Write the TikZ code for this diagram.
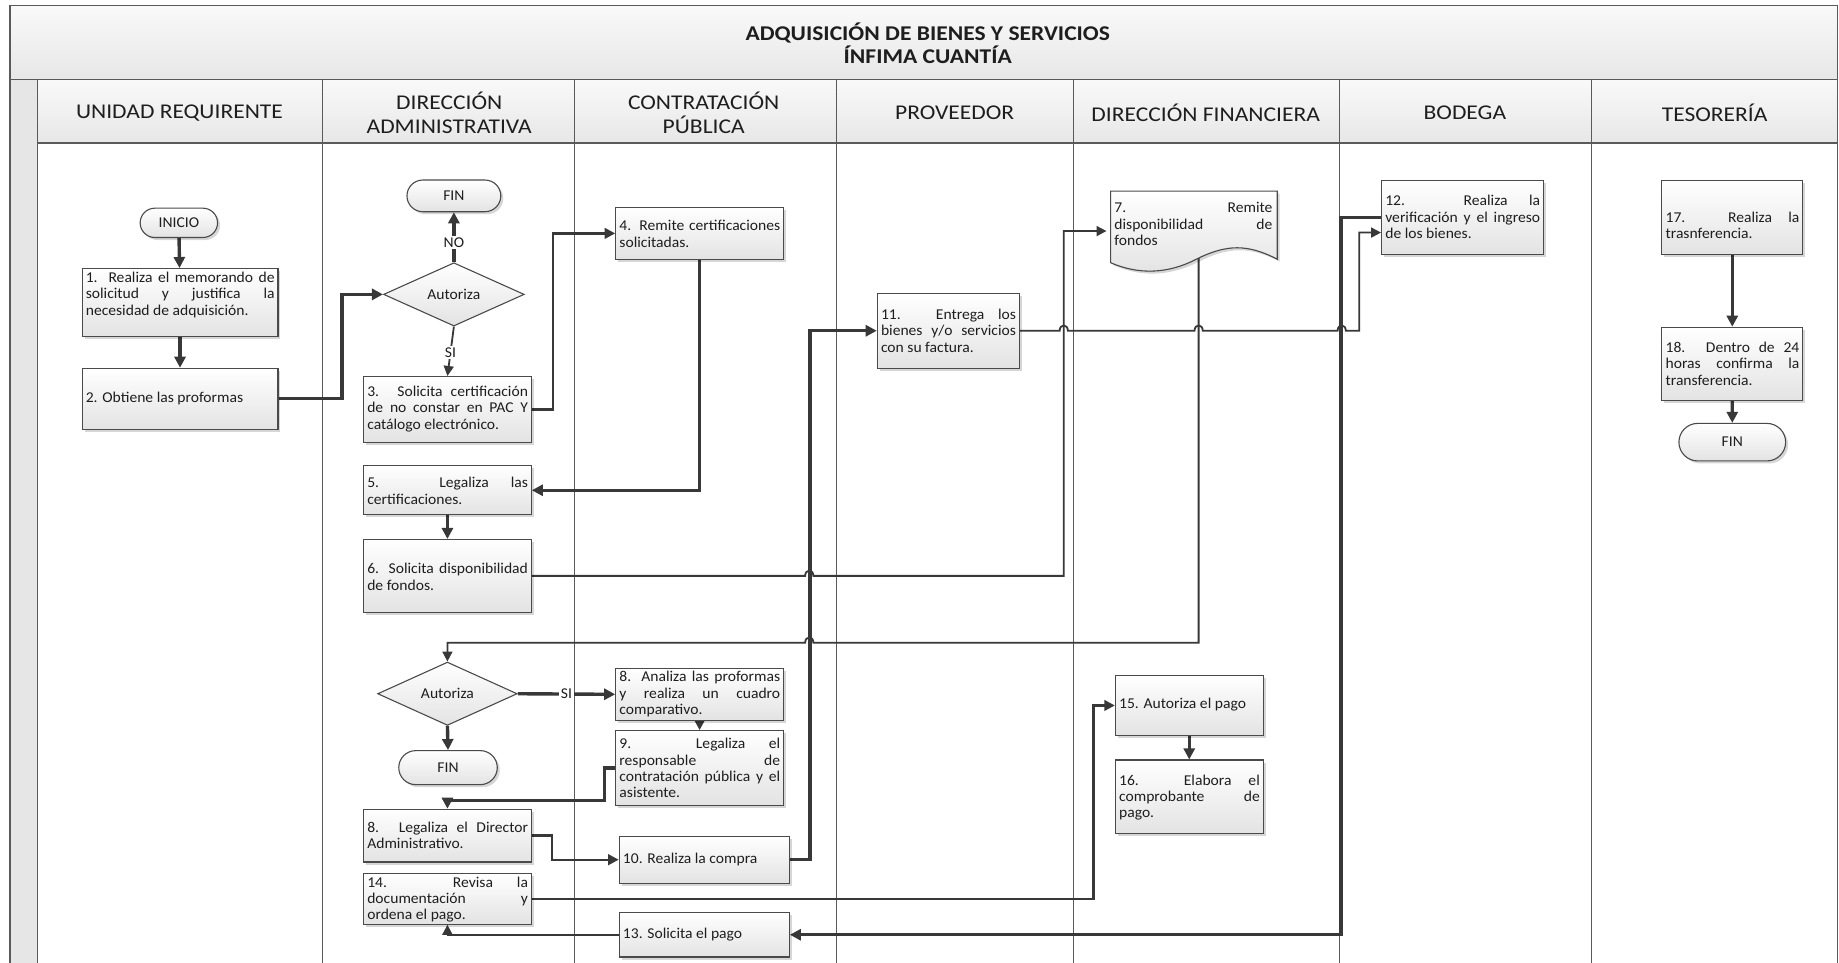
\documentclass[tikz,border=0pt]{standalone}
\usepackage{fontspec}
\setmainfont[FakeStretch=1.04]{Carlito}
\newfontfamily\headfam[FakeStretch=1.12]{Carlito}
\usetikzlibrary{arrows.meta,shapes.geometric,shapes.misc,shadows}

\definecolor{ink}{HTML}{1E1E1E}
\definecolor{wire}{HTML}{383838}
\definecolor{rule}{HTML}{5A5A5A}
\definecolor{edge}{HTML}{4A4A4A}
\definecolor{boxlow}{HTML}{E3E3E3}
\definecolor{bandhigh}{HTML}{F9F9F9}
\definecolor{bandlow}{HTML}{E7E7E7}
\definecolor{strip}{HTML}{E6E6E6}

\pgfdeclarelayer{lanes}
\pgfdeclarelayer{wires}
\pgfsetlayers{lanes,wires,main}

\newcommand\boxfont{\fontsize{15}{16.4}\selectfont}
\newcommand\headfont{\headfam\fontsize{21}{23.5}\selectfont}

% process box: name, x1, y1, x2, y2, text centre y, text
\newcommand\stepnode[7]{%
  \pgfmathsetmacro\pdW{(#4-#2)*1.1728}%
  \pgfmathsetmacro\pdH{(#5-#3)*1.1728}%
  \pgfmathsetmacro\pdT{\pdW-7}%
  \node[procbox, minimum width=\pdW pt, minimum height=\pdH pt] (#1) at ({(#2+#4)/2},{(#3+#5)/2}) {};
  \node[boxtext, text width=\pdT pt, anchor=west] (#1-t) at ({#2+3},#6) {#7};
}
% start/end pill: name, cx, cy, w, h, text
\newcommand\pillnode[6]{%
  \pgfmathsetmacro\pdW{#4*1.1728}\pgfmathsetmacro\pdH{#5*1.1728}%
  \node[terminal, minimum width=\pdW pt, minimum height=\pdH pt] (#1) at (#2,#3) {#6};}
% decision diamond: name, cx, cy, w, h, text
\newcommand\choicenode[6]{%
  \pgfmathsetmacro\pdW{#4*1.1728}\pgfmathsetmacro\pdH{#5*1.1728}%
  \node[decision, minimum width=\pdW pt, minimum height=\pdH pt] (#1) at (#2,#3) {#6};}

\tikzset{
  shadowed/.style={drop shadow={shadow xshift=2.5pt, shadow yshift=-2.5pt, fill=black, opacity=0.16}},
  procbox/.style={rectangle, draw=edge, line width=1.1pt, top color=white, bottom color=boxlow, shadowed, inner sep=0pt},
  boxtext/.style={inner sep=0pt, align=justify, text=ink, font=\boxfont,
    execute at begin node={\parindent=0pt\hyphenpenalty=10000\exhyphenpenalty=10000\tolerance=10000\hbadness=10000}},
  terminal/.style={rounded rectangle, draw=edge, line width=1.1pt, top color=white, bottom color=boxlow, shadowed, inner sep=0pt, text=ink, font=\boxfont},
  decision/.style={diamond, draw=edge, line width=1.1pt, top color=white, bottom color=boxlow, inner sep=0pt, text=ink, font=\boxfont},
  docshape/.style={draw=edge, line width=1.1pt, top color=white, bottom color=boxlow, shadowed},
  wirethick/.style={draw=wire, line width=3.4pt, -{Triangle[length=11pt,width=11pt]}},
  wiremid/.style={draw=wire, line width=2.4pt, -{Triangle[length=10.5pt,width=10.5pt]}},
  wirethin/.style={draw=wire, line width=1.8pt, -{Triangle[length=10pt,width=10pt]}},
  tag/.style={fill=white, inner sep=1.5pt, text=ink, font=\boxfont},
  laneline/.style={draw=rule, line width=1.2pt},
  lanehead/.style={font=\headfont, align=center, text=ink, inner sep=0pt},
}

\begin{document}
\begin{tikzpicture}[x=1.1728pt, y=-1.1728pt]
\useasboundingbox (0,0) rectangle (1568,821);

% ---------- swimlane frame ----------
\begin{pgfonlayer}{lanes}
  \fill[white] (0,0) rectangle (1568,821);
  \fill[top color=bandhigh, bottom color=bandlow] (8.5,5) rectangle (1567,68);
  \fill[top color=bandhigh, bottom color=bandlow] (32,68) rectangle (1567,122);
  \fill[strip] (8.5,68) rectangle (32,830);
  \draw[laneline] (8.5,830) -- (8.5,5) -- (1567,5) -- (1567,830);
  \draw[laneline] (8.5,68) -- (1567,68);
  \draw[laneline] (32,122) -- (1567,122);
  \foreach \lx in {32,275,490,713,915,1142,1357}
    \draw[laneline] (\lx,68) -- (\lx,830);
\end{pgfonlayer}

\node[font=\headfont\bfseries, align=center, text=ink, inner sep=0pt] (title) at (791,37)
  {ADQUISICIÓN DE BIENES Y SERVICIOS\\ÍNFIMA CUANTÍA};
\node[lanehead] (h1) at (153,96) {UNIDAD REQUIRENTE};
\node[lanehead] (h2) at (383,96) {DIRECCIÓN\\ADMINISTRATIVA};
\node[lanehead] (h3) at (600,96) {CONTRATACIÓN\\PÚBLICA};
\node[lanehead] (h4) at (814,96) {PROVEEDOR};
\node[lanehead] (h5) at (1028,96) {DIRECCIÓN FINANCIERA};
\node[lanehead] (h6) at (1249,96) {BODEGA};
\node[lanehead] (h7) at (1462,96) {TESORERÍA};

% ---------- unidad requirente ----------
\pillnode{inicio}{152.5}{190}{66}{25}{INICIO}
\stepnode{b1}{70}{229}{237}{287}{251.5}{1. Realiza el memorando de\linebreak solicitud y justifica la\linebreak necesidad de adquisición.}
\stepnode{b2}{70}{314}{237}{366}{340}{2. Obtiene las proformas}

% ---------- direccion administrativa ----------
\pillnode{fin1}{387}{167}{80}{27}{FIN}
\choicenode{d1}{387}{251}{120}{44}{Autoriza}
\stepnode{b3}{310}{321}{453}{377}{348.5}{3. Solicita certificación\linebreak de no constar en PAC Y\linebreak catálogo electrónico.}
\stepnode{b5}{310}{397}{453}{439}{418.5}{5. Legaliza las\linebreak certificaciones.}
\stepnode{b6}{310}{460}{453}{522}{492}{6. Solicita disponibilidad\linebreak de fondos.}
\choicenode{d2}{381.5}{591.5}{119}{50}{Autoriza}
\pillnode{fin2}{382}{654.5}{84}{29}{FIN}
\stepnode{b8b}{310}{690}{453}{735}{712}{8. Legaliza el Director\linebreak Administrativo.}
\stepnode{b14}{310}{745}{453}{788}{767}{14. Revisa la\linebreak documentación y\linebreak ordena el pago.}

% ---------- contratacion publica ----------
\stepnode{b4}{525}{177}{668}{221}{199.5}{4. Remite certificaciones\linebreak solicitadas.}
\stepnode{b8a}{525}{570}{668}{614}{592}{8. Analiza las proformas\linebreak y realiza un cuadro\linebreak comparativo.}
\stepnode{b9}{525}{623}{668}{686.5}{655}{9. Legaliza el\linebreak responsable de\linebreak contratación pública y el\linebreak asistente.}
\stepnode{b10}{528}{713}{673}{753}{733}{10. Realiza la compra}
\stepnode{b13}{528}{778}{673}{816}{797}{13. Solicita el pago}

% ---------- proveedor ----------
\stepnode{b11}{748}{250}{869}{314}{282}{11. Entrega los\linebreak bienes y/o servicios\linebreak con su factura.}

% ---------- direccion financiera ----------
\node[inner sep=0pt, minimum width=166.5pt, minimum height=79.7pt] (doc7) at (1018,197) {};
\filldraw[docshape] (947,163) -- (1089,163) -- (1089,221)
  .. controls (1064,208) and (1046,208) .. (1020,221)
  .. controls (995,234) and (970,234) .. (947,224) -- cycle;
\node[boxtext, text width=158pt, anchor=west] (doc7-t) at (950,191)
  {7. Remite\linebreak disponibilidad de\linebreak fondos};
\coordinate (w7) at (1022,215);
\stepnode{b15}{951}{576}{1077}{627}{601}{15. Autoriza el pago}
\stepnode{b16}{951}{648}{1077}{711}{680}{16. Elabora el\linebreak comprobante de\linebreak pago.}

% ---------- bodega ----------
\stepnode{b12}{1178}{154}{1316}{217}{185}{12. Realiza la\linebreak verificación y el ingreso\linebreak de los bienes.}

% ---------- tesoreria ----------
\stepnode{b17}{1417}{154}{1537}{217}{192}{17. Realiza la\linebreak trasnferencia.}
\stepnode{b18}{1417}{279}{1537}{341.5}{310}{18. Dentro de 24\linebreak horas confirma la\linebreak transferencia.}
\pillnode{fin3}{1477}{377}{91}{32}{FIN}

% ---------- connectors ----------
\begin{pgfonlayer}{wires}
  \draw[wirethick] (inicio) -- (b1);
  \draw[wirethick] (b1) -- (b2);
  \draw[wirethick] (b2.east) -- ++(54,0) |- (d1.west);
  \draw[wirethick] (d1.north) -- node[tag, pos=0.4]{NO} (fin1.south);
  \draw[wirethin] (d1.south) -- node[tag, pos=0.52]{SI} (b3.north);
  \draw[wiremid] (b3.east) -- ++(18,0) |- (b4.west);
  \draw[wirethick] (b4.south) |- (b5.east);
  \draw[wirethick] (b5) -- (b6);
  \draw[wirethin, shorten >=4pt] (b6.east) -- (686.5,491)
     .. controls (686.5,485) and (693.5,485) .. (693.5,491) -- (907,491) |- (doc7.west);
  \draw[wirethin] (w7) -- (1022,548) -- (693.5,548)
     .. controls (693.5,542) and (686.5,542) .. (686.5,548) -| (d2.north);
  \draw[wirethick] (d2.east) -- node[tag]{SI} (b8a.west);
  \draw[wirethick] (d2.south) -- (fin2.north);
  \draw[wirethick] (b8a) -- (b9);
  \draw[wirethick] (b9.west) -- ++(-9,0) -- ++(0,28) -| (b8b.north);
  \draw[wiremid] (b8b.east) -- ++(17,0) |- (b10.west);
  \draw[wirethick] (b10.east) -- ++(17,0) |- (b11.west);
  \draw[wirethin] (b11.east) -- (903.5,282)
     .. controls (903.5,276) and (910.5,276) .. (910.5,282) -- (1018.5,282)
     .. controls (1018.5,276) and (1025.5,276) .. (1025.5,282) -- (1140.5,282)
     .. controls (1140.5,276) and (1147.5,276) .. (1147.5,282) -- (1159,282)
     |- ([yshift=-15pt]b12.west);
  \draw[wirethick] (b12.west) -- ++(-34,0) |- (b13.east);
  \draw[wirethin] (b13.west) -| (b14.south);
  \draw[wiremid] (b14.east) -- ++(479,0) |- (b15.west);
  \draw[wirethick] (b15) -- (b16);
  \draw[wirethick] (b17) -- (b18);
  \draw[wirethick] (b18) -- (fin3);
\end{pgfonlayer}
\end{tikzpicture}
\end{document}
